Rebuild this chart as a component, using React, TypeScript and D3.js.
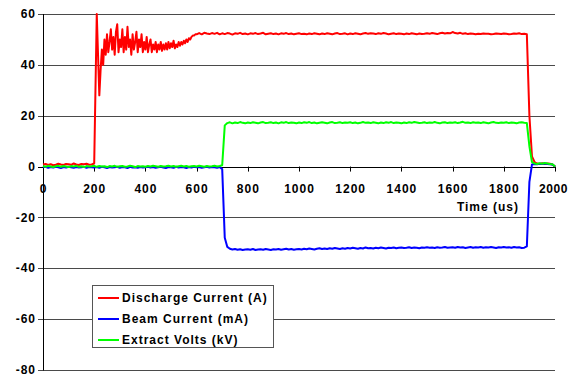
import React from "react";
import * as d3 from "d3";

// sample times (us): one reading every 10 us, every 5 us for the discharge ringing
const times = d3.range(0, 2001, 10);
const dischargeTimes = [...d3.range(0, 220, 10), ...d3.range(220, 600, 5), ...d3.range(600, 2001, 10)];

const discharge = [
  0.8, 1.0, 0.6, 0.9, 0.5, 0.7, 1.1, 0.8, 0.6, 1.0,
  0.9, 0.7, 1.2, 0.8, 0.6, 1.0, 0.9, 1.1, 0.7, 0.8,
  1.2, 60,
  // 220 - 595, every 5 us
  28, 38, 46, 40, 50, 44, 52, 45, 49, 54,
  46, 51, 44, 53, 56, 45, 50, 47, 54, 45,
  51, 46, 55, 47, 50, 44, 52, 46, 49, 53,
  45, 50, 47, 52, 45, 49, 46, 51, 45, 48,
  50, 45, 48, 46, 49, 45, 48, 46, 49, 45.5,
  48, 46, 48.5, 46, 49, 46.5, 48.5, 47, 49.5, 46.5,
  48, 47, 49, 47.5, 49, 48, 49.5, 48.5, 50, 49,
  50.5, 50, 51, 51.5, 51.5, 52,
  // 600 onwards, every 10 us
  52, 52.5, 52, 52.6, 52.3, 52.1, 52.5, 52.2, 52.6, 52.0,
  52.4, 52.1, 52.5, 52.3, 51.9, 52.4, 52.2, 52.6, 52.1, 52.3,
  52.0, 52.4, 52.2, 52.5, 52.1, 52.3, 52.6, 52.0, 52.2, 52.4,
  52.1, 52.3, 52.0, 52.4, 52.2, 52.5, 52.1, 52.3, 52.0, 52.2,
  52.4, 52.1, 52.2, 52.0, 52.3, 52.1, 52.4, 52.2, 52.0, 52.3,
  52.1, 52.4, 52.2, 52.0, 52.3, 52.5, 52.1, 52.2, 52.4, 52.0,
  52.3, 52.1, 52.4, 52.2, 52.0, 52.3, 52.5, 52.2, 52.4, 52.3,
  52.1, 52.4, 52.2, 52.5, 52.3, 52.0, 52.2, 52.4, 52.1, 52.3,
  52.2, 52.0, 52.3, 52.1, 52.4, 52.2, 52.0, 52.3, 52.1, 52.2,
  52.4, 52.2, 52.5, 52.3, 52.1, 52.4, 52.6, 52.3, 52.5, 52.4,
  52.9, 52.5, 52.3, 52.6, 52.2, 52.4, 52.1, 52.3, 52.2, 52.0,
  52.2, 52.1, 52.3, 52.2, 52.2, 52.0, 52.1, 52.3, 52.2, 52.1,
  52.3, 52.2, 52.0, 52.1, 52.3, 52.2, 52.4, 52.1, 52.2, 52.0,
  20, 4, 1.8, 1.2, 1.0, 1.3, 1.0, 1.2, 1.1, 0.8,
  0.0,
];

const beam = [
  -0.3, -0.1, -0.5, -0.2, -0.4, -0.1, -0.3, -0.6, -0.2, -0.4,
  -0.1, -0.3, -0.5, -0.2, -0.4, -0.3, -0.1, -0.5, -0.2, -0.3,
  -0.4, -0.2, -0.5, -0.1, -0.3, -0.6, -0.2, -0.4, -0.3, -0.1,
  -0.5, -0.2, -0.3, -0.6, -0.1, -0.4, -0.3, -0.5, -0.2, -0.4,
  -0.3, -0.1, -0.4, -0.2, -0.5, -0.3, -0.1, -0.4, -0.6, -0.2,
  -0.3, -0.5, -0.1, -0.4, -0.2, -0.3, -0.6, -0.2, -0.4, -0.1,
  -0.3, -0.2, -0.5, -0.3, -0.1, -0.4, -0.2, -0.3, -0.5, -0.2,
  -1.0, -28, -31.6, -32.3, -32.6, -32.4, -32.7, -32.5, -32.8, -32.6,
  -32.5, -32.7, -32.4, -32.8, -32.6, -32.5, -32.7, -32.4, -32.6, -32.8,
  -32.5, -32.6, -32.4, -32.7, -32.5, -32.3, -32.6, -32.4, -32.7, -32.5,
  -32.4, -32.6, -32.3, -32.5, -32.2, -32.4, -32.6, -32.3, -32.1, -32.4,
  -32.2, -32.4, -32.1, -32.3, -32.0, -32.2, -32.4, -32.1, -32.3, -32.0,
  -32.2, -31.9, -32.1, -32.3, -32.0, -32.2, -31.8, -32.1, -32.0, -32.2,
  -31.9, -32.1, -31.8, -32.0, -32.2, -31.9, -32.0, -31.8, -32.1, -31.9,
  -31.8, -32.0, -31.9, -31.7, -32.0, -31.8, -31.9, -32.1, -31.8, -31.9,
  -31.7, -31.9, -31.8, -32.0, -31.7, -31.9, -31.8, -31.6, -31.9, -31.8,
  -31.7, -31.9, -31.6, -31.8, -31.7, -32.0, -31.8, -31.6, -31.9, -31.7,
  -31.8, -31.6, -31.9, -31.7, -31.8, -31.6, -31.8, -32.0, -31.7, -31.8,
  -31.6, -31.8, -31.7, -31.9, -31.6, -31.8, -31.7, -32.0, -31.9, -31.4,
  -6, 0.8, 1.0, 0.9, 1.1, 1.0, 1.2, 1.0, 0.9, 0.8,
  0.0,
];

const extract = [
  0.2, -0.1, 0.3, 0.0, -0.2, 0.1, 0.3, -0.1, 0.2, 0.0,
  -0.2, 0.2, 0.0, 0.3, -0.1, 0.1, -0.2, 0.2, 0.0, 0.1,
  0.3, -0.1, 0.2, 0.0, 0.1, -0.2, 0.2, 0.0, 0.3, -0.1,
  0.1, 0.2, -0.1, 0.0, 0.3, 0.1, -0.2, 0.2, 0.0, 0.1,
  -0.1, 0.2, 0.0, 0.3, 0.1, -0.1, 0.2, 0.0, 0.1, 0.3,
  0.0, 0.2, -0.1, 0.1, 0.3, 0.0, 0.2, -0.1, 0.1, 0.2,
  0.0, 0.3, 0.1, -0.1, 0.2, 0.0, 0.1, 0.3, 0.0, 0.2,
  0.5, 16.2, 17.1, 17.4, 17.0, 17.3, 17.1, 17.5, 17.2, 17.0,
  17.3, 17.1, 17.4, 17.2, 17.0, 17.3, 17.5, 17.1, 17.2, 17.4,
  17.1, 17.3, 17.0, 17.4, 17.2, 17.5, 17.1, 17.3, 17.2, 17.0,
  17.3, 17.1, 17.4, 17.2, 17.5, 17.1, 17.3, 17.0, 17.2, 17.4,
  17.2, 17.0, 17.3, 17.5, 17.1, 17.2, 17.4, 17.1, 17.3, 17.2,
  17.4, 17.1, 17.3, 17.0, 17.2, 17.5, 17.2, 17.3, 17.1, 17.4,
  17.2, 17.0, 17.3, 17.1, 17.4, 17.2, 17.5, 17.1, 17.3, 17.2,
  17.0, 17.3, 17.1, 17.4, 17.2, 17.5, 17.3, 17.1, 17.2, 17.4,
  17.1, 17.3, 17.2, 17.5, 17.2, 17.0, 17.3, 17.4, 17.1, 17.3,
  17.2, 17.4, 17.1, 17.3, 17.6, 17.2, 17.3, 17.1, 17.4, 17.2,
  17.3, 17.1, 17.4, 17.2, 17.0, 17.3, 17.5, 17.2, 17.1, 17.3,
  17.2, 17.4, 17.1, 17.3, 17.2, 17.0, 17.3, 17.4, 17.2, 17.1,
  8, 1.8, 1.2, 1.0, 1.3, 1.1, 1.4, 1.2, 1.0, 0.9,
  0.0,
];

const seriesNames = ["Discharge Current (A)", "Beam Current (mA)", "Extract Volts (kV)"];
const seriesColors = ["#ff0000", "#0000ff", "#00ff00"];
const xTicks = [0, 200, 400, 600, 800, 1000, 1200, 1400, 1600, 1800, 2000];
const yTicks = [60, 40, 20, 0, -20, -40, -60, -80];
const xTitle = "Time (us)";

const font = "'Liberation Sans', Arial, sans-serif";

export default function App() {
  const width = 569;
  const height = 376;
  const x = d3.scaleLinear().domain([0, 2000]).range([43, 555]);
  const y = d3.scaleLinear().domain([-80, 60]).range([370, 14]);

  const line = d3
    .line<[number, number]>()
    .x((d) => x(d[0]))
    .y((d) => y(d[1]));

  const allSeries: [number, number][][] = [
    d3.zip(dischargeTimes, discharge) as [number, number][],
    d3.zip(times, beam) as [number, number][],
    d3.zip(times, extract) as [number, number][],
  ];

  return (
    <svg
      width={width}
      height={height}
      style={{ position: "absolute", left: 0, top: 0, background: "#fff" }}
      fontFamily={font}
      fontWeight="bold"
      fontSize={12}
    >
      {/* gridlines */}
      {yTicks
        .filter((t) => t !== 0)
        .map((t) => (
          <line key={t} x1={38} x2={x(2000)} y1={Math.round(y(t)) + 0.5} y2={Math.round(y(t)) + 0.5} stroke="#4a4a4a" strokeWidth={1} />
        ))}
      {/* y axis */}
      <line x1={x(0) + 0.5} x2={x(0) + 0.5} y1={y(60)} y2={y(-80) + 0.5} stroke="#000" />
      {yTicks.map((t) => (
        <text key={t} x={36} y={y(t)} dy="0.35em" textAnchor="end" letterSpacing={1}>
          {t}
        </text>
      ))}
      {/* x axis on zero */}
      <line x1={38} x2={x(2000)} y1={Math.round(y(0)) + 0.5} y2={Math.round(y(0)) + 0.5} stroke="#000" />
      {xTicks.map((t, i) => (
        <g key={t}>
          <line x1={Math.round(x(t)) + 0.5} x2={Math.round(x(t)) + 0.5} y1={y(0)} y2={y(0) + 5} stroke="#000" />
          {i === xTicks.length - 1 ? (
            <text x={568} y={193} textAnchor="end" letterSpacing={0.6}>
              {t}
            </text>
          ) : (
            <text x={x(t) + 0.5} y={193} textAnchor="middle" letterSpacing={1}>
              {t}
            </text>
          )}
        </g>
      ))}
      <text x={519} y={211} textAnchor="end" letterSpacing={1}>
        {xTitle}
      </text>

      {/* series */}
      {allSeries.map((s, i) => (
        <path key={i} d={line(s) ?? ""} fill="none" stroke={seriesColors[i]} strokeWidth={2} strokeLinejoin="round" />
      ))}

      {/* legend */}
      <rect x={92.5} y={285.5} width={181} height={62} fill="#fff" stroke="#555" />
      {seriesNames.map((n, i) => (
        <g key={n}>
          <line x1={98} x2={119} y1={298 + i * 21} y2={298 + i * 21} stroke={seriesColors[i]} strokeWidth={2} />
          <text x={122} y={298 + i * 21} dy="0.35em" letterSpacing={1}>
            {n}
          </text>
        </g>
      ))}
    </svg>
  );
}
